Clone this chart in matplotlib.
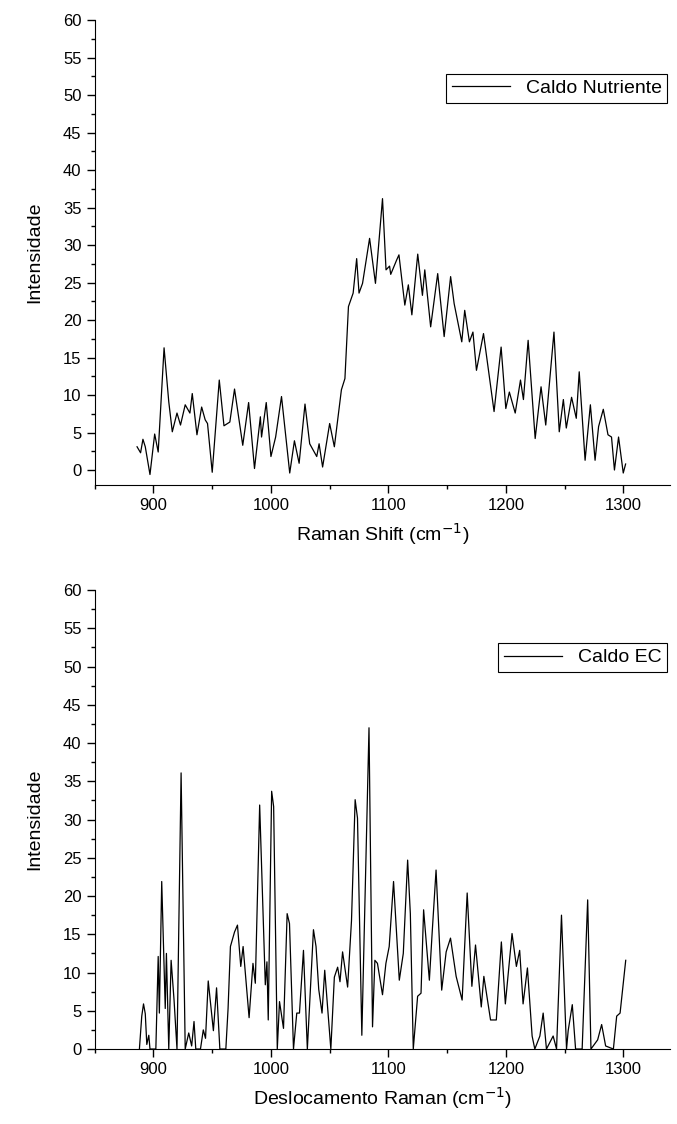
import matplotlib
matplotlib.use('Agg')
import matplotlib.pyplot as plt
from matplotlib.ticker import MultipleLocator

plt.rcParams['font.family'] = ['Liberation Sans', 'DejaVu Sans']

# Caldo Nutriente
x_cn = [886, 889, 891, 893, 897, 901, 904, 909, 913, 916, 920, 923, 927, 931, 933, 937,
        941, 944, 946, 950, 956, 960, 965, 969, 976, 981, 986, 991, 992, 996, 1000, 1004,
        1009, 1016, 1020, 1024, 1029, 1033, 1039, 1041, 1044, 1050, 1054, 1060, 1063, 1066,
        1070, 1073, 1075, 1078, 1084, 1089, 1095, 1098, 1101, 1102, 1107, 1109, 1114, 1117,
        1120, 1125, 1129, 1131, 1136, 1142, 1147.5, 1153, 1156, 1162.5, 1165, 1169, 1172,
        1175, 1181, 1190, 1196, 1200, 1203, 1208, 1212.5, 1215, 1219, 1225, 1230, 1234,
        1241, 1245.5, 1249, 1251.5, 1256, 1260, 1262.5, 1267.5, 1272, 1276, 1279, 1283,
        1287, 1290, 1292.5, 1296, 1300, 1302]
y_cn = [3.1, 2.3, 4.1, 3.1, -0.6, 4.8, 2.4, 16.3, 9.1, 5.1, 7.6, 6.0, 8.7, 7.6, 10.2, 4.7,
        8.4, 6.7, 6.2, -0.3, 12.0, 5.9, 6.4, 10.8, 3.3, 9.0, 0.2, 7.1, 4.4, 9.0, 1.8, 4.4,
        9.8, -0.4, 3.9, 0.9, 8.8, 3.5, 1.8, 3.5, 0.4, 6.2, 3.1, 10.7, 12.2, 21.8,
        23.6, 28.2, 23.6, 24.9, 30.9, 24.9, 36.2, 26.7, 27.2, 26.1, 28.0, 28.7, 22.0, 24.7,
        20.7, 28.8, 23.3, 26.7, 19.1, 26.2, 17.8, 25.8, 22.2, 17.1, 21.3, 17.1, 18.4,
        13.3, 18.2, 7.8, 16.4, 8.2, 10.4, 7.6, 12.0, 9.4, 17.3, 4.2, 11.1, 6.0,
        18.4, 5.1, 9.4, 5.6, 9.7, 6.9, 13.1, 1.3, 8.7, 1.3, 5.8, 8.1,
        4.7, 4.4, 0.0, 4.4, -0.4, 0.8]

# Caldo EC
x_ec = [888, 890, 891.5, 893, 894.3, 896, 897, 902, 904, 905, 907, 910, 911, 913, 915, 917.5,
        920, 923.5, 927, 930, 932.5, 934.5, 936, 940, 942.4, 944.3, 946.6, 951, 953.7, 956.5,
        961.6, 963.5, 965.5, 969, 971.5, 974.3, 976.3, 981.4, 984.7, 986.7, 990.4, 995.2,
        996.6, 997.7, 1000.6, 1002.3, 1005.4, 1007.3, 1010.7, 1013.8, 1015.8, 1019.2, 1022,
        1024.3, 1027.7, 1031, 1036.2, 1038.4, 1040.7, 1043.5, 1045.8, 1051, 1054, 1056.8,
        1058.8, 1061, 1065.3, 1068.6, 1071.7, 1073.7, 1077.4, 1083.5, 1086.5, 1088.5, 1090.7,
        1095, 1097.9, 1100.7, 1104.4, 1109.3, 1112.7, 1116.4, 1118.7, 1121.2, 1124.9, 1127.8,
        1130, 1134.9, 1137.2, 1140.6, 1145.4, 1149.2, 1152.9, 1157.7, 1162.8, 1167.1, 1171.1,
        1174.2, 1179.1, 1181.3, 1187, 1191.9, 1196.2, 1199.6, 1205.3, 1209, 1211.8, 1214.7,
        1218.4, 1222.4, 1224.7, 1229, 1231.8, 1234.6, 1240.3, 1243.2, 1247.4, 1251.7, 1253.1,
        1256.6, 1259.4, 1265, 1269.7, 1272.5, 1278.2, 1281.6, 1285, 1291.6, 1294.4, 1297.3,
        1302.1]
y_ec = [0, 4.3, 5.9, 4.6, 0.6, 1.8, 0, 0, 12.1, 4.7, 21.9, 5.3, 12.5, 0, 11.6, 6.4,
        0, 36.1, 0, 2.1, 0.4, 3.6, 0, 0, 2.5, 1.4, 8.9, 2.4, 8.0, 0,
        0, 5.3, 13.4, 15.3, 16.2, 10.8, 13.4, 4.1, 11.2, 8.6, 31.9, 8.4,
        11.4, 3.8, 33.7, 31.7, 0, 6.2, 2.7, 17.7, 16.4, 0, 4.7,
        4.7, 12.9, 0, 15.6, 13.4, 7.8, 4.7, 10.3, 0, 9.4, 10.7,
        8.8, 12.7, 8.1, 16.8, 32.6, 30.2, 1.8, 42.0, 2.9, 11.6, 11.2,
        7.1, 11.2, 13.4, 21.9, 9.0, 12.5, 24.7, 17.7, 0, 6.9, 7.3,
        18.2, 9.0, 15.0, 23.4, 7.7, 12.7, 14.5, 9.5, 6.4, 20.4, 8.2,
        13.6, 5.5, 9.5, 3.8, 3.8, 14.0, 5.9, 15.1, 10.8, 12.9, 5.9,
        10.6, 1.7, 0, 1.7, 4.7, 0, 1.7, 0, 17.5, 0, 2.4,
        5.8, 0, 0, 19.5, 0, 1.2, 3.2, 0.4, 0, 4.3, 4.7,
        11.6]


def style_axes(ax, ylim, xlabel):
    ax.set_xlim(850, 1340)
    ax.set_ylim(*ylim)
    ax.xaxis.set_major_locator(MultipleLocator(100))
    ax.xaxis.set_minor_locator(MultipleLocator(50))
    ax.yaxis.set_major_locator(MultipleLocator(5))
    ax.yaxis.set_minor_locator(MultipleLocator(2.5))
    ax.spines['top'].set_visible(False)
    ax.spines['right'].set_visible(False)
    ax.tick_params(which='major', direction='out', length=6, width=1, labelsize=12)
    ax.tick_params(which='minor', direction='out', length=3, width=1)
    ax.set_xlabel(xlabel, fontsize=14, labelpad=6)
    ax.set_ylabel('Intensidade', fontsize=14, labelpad=14)
    leg = ax.legend(loc='upper right', bbox_to_anchor=(0.995, 0.885), fontsize=14,
                    handlelength=3, fancybox=False, framealpha=1, borderaxespad=0,
                    borderpad=0.3)
    leg.get_frame().set_edgecolor('black')
    leg.get_frame().set_linewidth(0.8)


fig = plt.figure(figsize=(6.77, 11.24), dpi=100)
ax1 = fig.add_axes([0.140, 0.5685, 0.850, 0.4135])
ax1.plot(x_cn, y_cn, color='black', lw=0.9, label='Caldo Nutriente')
style_axes(ax1, (-2, 60), 'Raman Shift (cm$^{-1}$)')

ax2 = fig.add_axes([0.140, 0.0667, 0.850, 0.4083])
ax2.plot(x_ec, y_ec, color='black', lw=0.9, label='Caldo EC')
style_axes(ax2, (0, 60), 'Deslocamento Raman (cm$^{-1}$)')

fig.savefig('out.png', dpi=100)
